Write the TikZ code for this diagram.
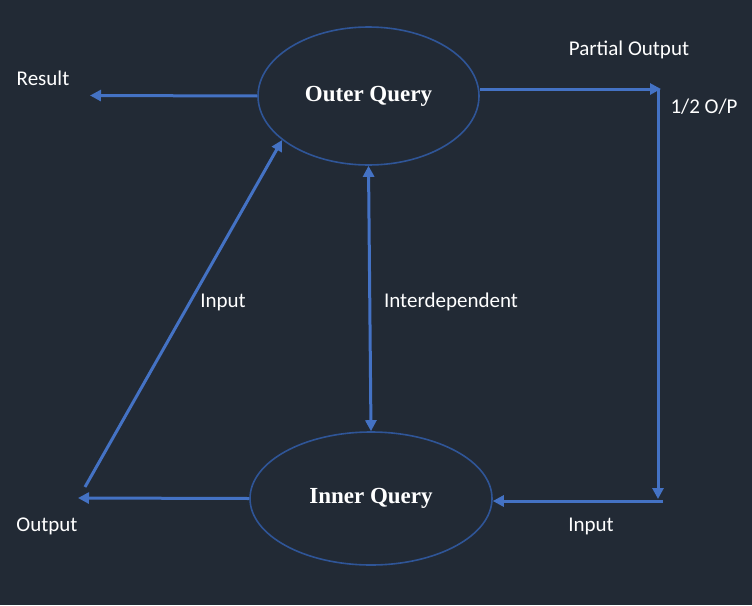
\documentclass[tikz,border=0pt]{standalone}
\usepackage{fontspec}
\setmainfont{Liberation Serif}
\newfontfamily\lblfont{Carlito}
\usetikzlibrary{shapes.geometric,arrows.meta}
\definecolor{bgcol}{HTML}{222A35}
\definecolor{flowcol}{HTML}{4472C4}
\definecolor{rimcol}{HTML}{2F5597}

\begin{document}
\begin{tikzpicture}[x=1pt,y=-1pt,
    query/.style={ellipse, draw=rimcol, line width=1.6pt, text=white, font=\bfseries\fontsize{23}{27}\selectfont},
    lbl/.style={text=white, font=\lblfont\fontsize{21}{25}\selectfont},
    flow/.style={draw=flowcol, line width=3pt, -{Triangle[length=11pt,width=11pt]}},
    twoway/.style={flow, {Triangle[length=11pt,width=11pt]}-{Triangle[length=11pt,width=11pt]}}]
  \fill[bgcol] (0,0) rectangle (752,605);
  \useasboundingbox (0,0) rectangle (752,605);

  \node[query, minimum width=221pt, minimum height=138pt] (outer) at (368.5,96) {Outer Query};
  \node[query, minimum width=242pt, minimum height=133pt] (inner) at (371,498.5) {Inner Query};

  \node[lbl] (result) at (43,78) {Result};
  \node[lbl] (partial) at (629,50) {Partial Output};
  \node[lbl] (half) at (704,107) {1/2 O/P};
  \node[lbl] (inright) at (591,526) {Input};
  \node[lbl] (output) at (47,526) {Output};
  \node[lbl] (inleft) at (223,302) {Input};
  \node[lbl] (interdep) at (451,302) {Interdependent};

  \coordinate (res) at (90,95.5);
  \coordinate (po) at (661,89);
  \coordinate (potop) at (658,89);
  \coordinate (podown) at (658,499);
  \coordinate (poback) at (663,501);
  \coordinate (out) at (78,498);
  \coordinate (outfoot) at (85,487);

  \draw[flow] (outer.west) -- (res);
  \draw[flow] (outer.east |- po) -- (po);
  \draw[flow] (potop) -- (podown);
  \draw[flow] (poback) -- (inner.east |- poback);
  \draw[flow] (inner.west) -- (out);
  \draw[flow] (outfoot) -- (outer.-153);
  \draw[twoway] (outer.south) -- (inner.north);
\end{tikzpicture}
\end{document}
